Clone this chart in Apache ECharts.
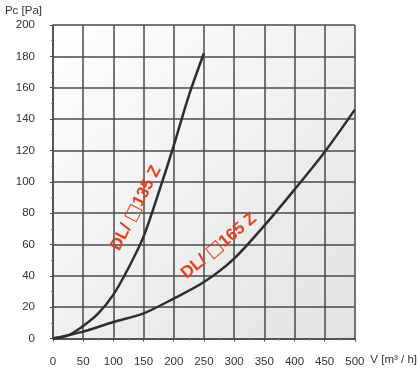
<!DOCTYPE html>
<html>
<head>
<meta charset="utf-8">
<script src="https://cdn.jsdelivr.net/npm/echarts@6/dist/echarts.min.js"></script>
<style>html,body{margin:0;padding:0;background:#fff}#c{width:420px;height:374px}</style>
</head>
<body>
<div id="c"></div>
<script>
const xTicks = [0, 50, 100, 150, 200, 250, 300, 350, 400, 450, 500];
const yTicks = [0, 20, 40, 60, 80, 100, 120, 140, 160, 180, 200];
const seriesNames = ['DL/ \u25A1135 Z', 'DL/ \u25A1165 Z'];
const flow135 = [0, 25, 50, 75, 100, 125, 150, 175, 200, 225, 250];
const pres135 = [0, 2, 8, 16, 28, 45, 65, 93, 123, 155, 182];
const flow165 = [0, 50, 100, 150, 200, 250, 300, 350, 400, 450, 500];
const pres165 = [0, 4.4, 10.5, 16, 25.5, 36, 51, 72, 95, 119, 146];

const chart = echarts.init(document.getElementById('c'), null, {renderer: 'canvas'});
const gridCol = '#4a4a4a';
const font = 'Liberation Sans, Arial, sans-serif';
const toPairs = (xs, ys) => xs.map((x, i) => [x, ys[i]]);

chart.setOption({
  animation: false,
  backgroundColor: '#fff',
  grid: {
    left: 53, right: 62, top: 25, bottom: 35.5,
    show: true, borderWidth: 0,
    backgroundColor: new echarts.graphic.LinearGradient(0, 0, 1, 1, [
      {offset: 0, color: '#ffffff'},
      {offset: 1, color: '#e2e2e2'}
    ])
  },
  xAxis: {
    type: 'value', min: 0, max: 500, interval: 50,
    name: 'V [m\u00B3 / h]', nameLocation: 'end', nameGap: 12,
    nameTextStyle: {color: '#333', fontSize: 11.5, fontFamily: font, verticalAlign: 'top', padding: [15, 0, 0, 0]},
    axisLine: {show: true, lineStyle: {color: gridCol, width: 1.5}},
    axisTick: {show: true, length: 3, lineStyle: {color: gridCol}},
    minorTick: {show: true, splitNumber: 2, length: 2, lineStyle: {color: '#777'}},
    axisLabel: {color: '#333', fontSize: 11.5, fontFamily: font, margin: 17,
      formatter: v => xTicks.includes(v) ? String(v) : ''},
    splitLine: {show: true, lineStyle: {color: gridCol, width: 1.5}}
  },
  yAxis: {
    type: 'value', min: 0, max: 200, interval: 20,
    name: 'Pc [Pa]', nameLocation: 'end', nameGap: 8,
    nameTextStyle: {color: '#333', fontSize: 11.5, fontFamily: font, align: 'right', padding: [0, 11, 0, 0]},
    axisLine: {show: true, lineStyle: {color: gridCol, width: 1.5}},
    axisTick: {show: true, length: 3, lineStyle: {color: gridCol}},
    minorTick: {show: true, splitNumber: 2, length: 2, lineStyle: {color: '#777'}},
    axisLabel: {color: '#333', fontSize: 11.5, fontFamily: font, margin: 18,
      formatter: v => yTicks.includes(v) ? String(v) : ''},
    splitLine: {show: true, lineStyle: {color: gridCol, width: 1.5}}
  },
  series: [
    {name: seriesNames[0], type: 'line', data: toPairs(flow135, pres135), smooth: 0.3,
     showSymbol: false, lineStyle: {color: '#2e2e2e', width: 2.5}},
    {name: seriesNames[1], type: 'line', data: toPairs(flow165, pres165), smooth: 0.3,
     showSymbol: false, lineStyle: {color: '#2e2e2e', width: 2.5}}
  ]
});

const redCol = '#e8401c';
function richLabel(name) {
  const i = name.indexOf('\u25A1');
  return '{a|' + name.slice(0, i) + '}{b|\u25A1}{a|' + name.slice(i + 1) + '}';
}
const richStyle = {
  a: {fill: redCol, font: 'bold 17px "Liberation Sans", Arial, sans-serif'},
  b: {fill: redCol, font: 'bold 18px "DejaVu Sans", sans-serif'}
};
chart.setOption({
  graphic: [
    {type: 'text', x: 136, y: 208, rotation: 63 * Math.PI / 180,
     style: {text: richLabel(seriesNames[0]), rich: richStyle, fill: redCol, align: 'center', verticalAlign: 'middle'}},
    {type: 'text', x: 219, y: 246, rotation: 40 * Math.PI / 180,
     style: {text: richLabel(seriesNames[1]), rich: richStyle, fill: redCol, align: 'center', verticalAlign: 'middle'}}
  ]
});
</script>
</body>
</html>
